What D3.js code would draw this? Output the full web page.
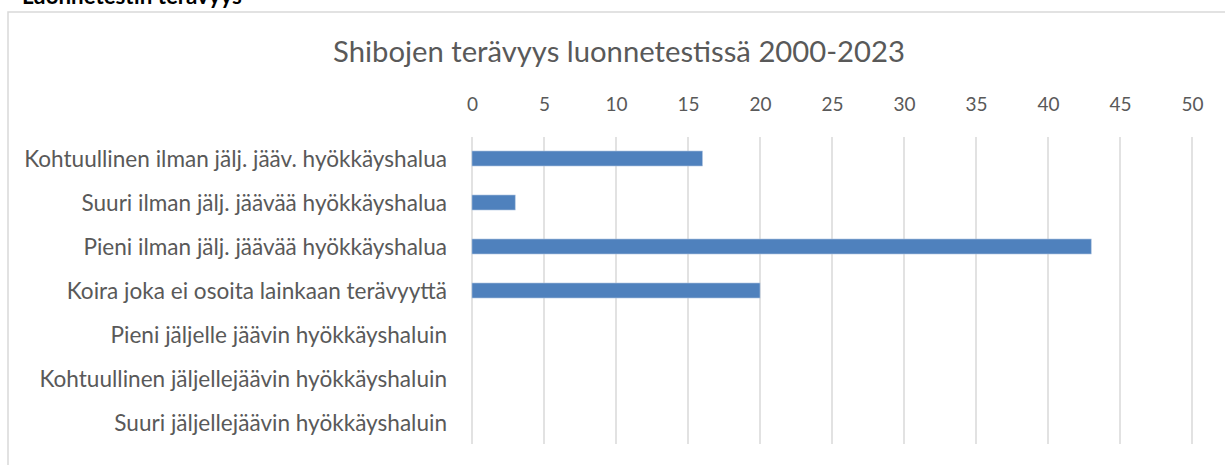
<!DOCTYPE html>
<html>
<head>
<meta charset="utf-8">
<script src="https://cdn.jsdelivr.net/npm/d3@7"></script>
<style>
  html, body { margin: 0; padding: 0; background: #fff; }
  svg { display: block; }
  text { font-family: Lato, "Open Sans", sans-serif; }
</style>
</head>
<body>
<svg id="chart" width="1225" height="465"></svg>
<script>
// chart data
var categories = [
  "Kohtuullinen ilman jälj. jääv. hyökkäyshalua",
  "Suuri ilman jälj. jäävää hyökkäyshalua",
  "Pieni ilman jälj. jäävää hyökkäyshalua",
  "Koira joka ei osoita lainkaan terävyyttä",
  "Pieni jäljelle jäävin hyökkäyshaluin",
  "Kohtuullinen jäljellejäävin hyökkäyshaluin",
  "Suuri jäljellejäävin hyökkäyshaluin"
];
var values = [16, 3, 43, 20, 0, 0, 0];
var tickValues = [0, 5, 10, 15, 20, 25, 30, 35, 40, 45, 50];
var title = "Shibojen terävyys luonnetestissä 2000-2023";
var heading = "Luonnetestin terävyys";

var svg = d3.select("#chart");

// fit a text to a given width by picking its font size
function fitFont(sel, width) {
  sel.style("font-size", "100px");
  var w = sel.node().getComputedTextLength();
  sel.style("font-size", (100 * width / w) + "px");
}

// heading above the chart, cut off at the top edge like in the source
var h = svg.append("text")
  .attr("x", 22).attr("y", 4)
  .style("font-weight", "bold")
  .attr("fill", "#000")
  .text(heading);
fitFont(h, 220);

// chart border
svg.append("rect")
  .attr("x", 8).attr("y", 12)
  .attr("width", 1240).attr("height", 480)
  .attr("fill", "none")
  .attr("stroke", "#d9d9d9")
  .attr("stroke-width", 1.5);

var x = d3.scaleLinear().domain([0, 50]).range([472, 1192]);
var y = d3.scaleBand().domain(categories).range([136.5, 444.5])
  .paddingInner(0.66).paddingOuter(0.33);

// title
var t = svg.append("text")
  .attr("x", 619).attr("y", 62)
  .attr("text-anchor", "middle")
  .attr("fill", "#595959")
  .text(title);
fitFont(t, 572);

// gridlines
svg.append("g")
  .selectAll("line")
  .data(tickValues)
  .enter()
  .append("line")
    .attr("x1", function(d){ return x(d) })
    .attr("x2", function(d){ return x(d) })
    .attr("y1", 137)
    .attr("y2", 444)
    .attr("stroke", "#d9d9d9")
    .attr("stroke-width", 1.5);

// top axis labels
var xAxis = svg.append("g")
  .attr("transform", "translate(0,111)")
  .call(d3.axisTop(x).tickValues(tickValues).tickSize(0).tickPadding(0));
xAxis.select(".domain").remove();
xAxis.selectAll("text")
  .attr("fill", "#595959")
  .style("font-size", "19px")
  .style("font-family", "Lato, 'Open Sans', sans-serif")
  .attr("dy", 0);

// bars
svg.append("g")
  .selectAll("rect")
  .data(values)
  .enter()
  .append("rect")
    .attr("x", x(0))
    .attr("y", function(d, i){ return y(categories[i]) })
    .attr("width", function(d){ return x(d) - x(0) })
    .attr("height", y.bandwidth())
    .attr("fill", "#4f81bd")
    .attr("stroke", "#a7bfdd")
    .attr("stroke-width", function(d){ return d > 0 ? 0.6 : 0 });

// category labels
var labels = svg.append("g")
  .selectAll("text")
  .data(categories)
  .enter()
  .append("text")
    .attr("x", 447)
    .attr("y", function(d){ return y(d) + y.bandwidth() / 2 })
    .attr("dy", "0.36em")
    .attr("text-anchor", "end")
    .attr("fill", "#595959")
    .text(function(d){ return d });
fitFont(d3.select(labels.nodes()[0]), 423);
labels.style("font-size", d3.select(labels.nodes()[0]).style("font-size"));
</script>
</body>
</html>
